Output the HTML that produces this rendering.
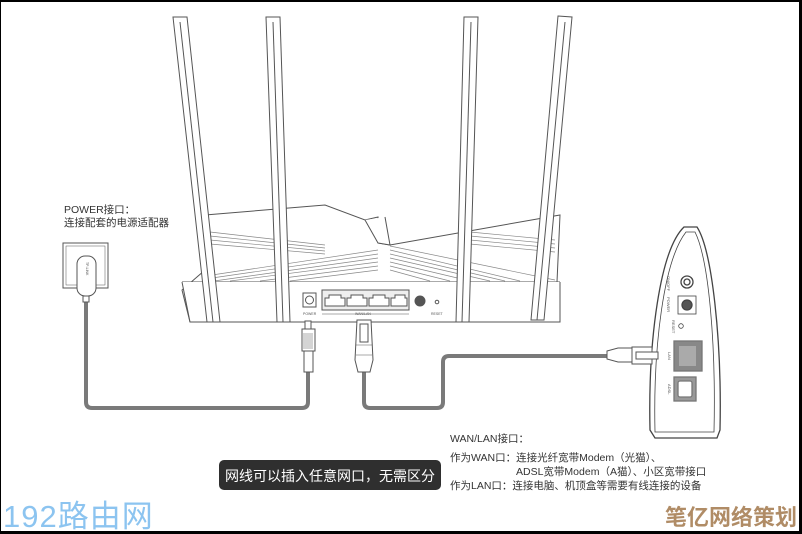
<!DOCTYPE html>
<html><head><meta charset="utf-8"><style>
html,body{margin:0;padding:0;background:#fff}
body{width:802px;height:534px;overflow:hidden;position:relative;font-family:"Liberation Sans","Noto Sans CJK SC",sans-serif}
svg{position:absolute;left:0;top:0}
</style></head><body>
<svg width="802" height="534" viewBox="0 0 802 534" xmlns="http://www.w3.org/2000/svg">
<rect x="0" y="0" width="802" height="534" fill="#fff"/>
<rect x="0" y="0" width="802" height="2" fill="#000"/>
<rect x="0" y="531" width="802" height="3" fill="#000"/>
<rect x="799" y="0" width="3" height="534" fill="#000"/>
<rect x="0" y="0" width="1" height="534" fill="#000"/>

<g fill="none" stroke="#7a7a7a" stroke-width="4" stroke-linejoin="round">
<path d="M86 300 V402 Q86 408 92 408 H302 Q308 408 308 402 V372"/>
<path d="M364 372 V402 Q364 408 370 408 H437 Q443 408 443 402 V362 Q443 356 449 356 H610"/>
</g>

<g fill="#fff" stroke="#555" stroke-width="1">
<path d="M205 215 L325 205 L365 220 L378 217 L378 243 L390 245 L560 215 L557 282 L560 322 L190 322 L182 290 L205 270 Z"/>
<path d="M182 282 L560 282" />
<path d="M182 282 L190 322 H560 L560 282"/>
<g stroke="#888" stroke-width="0.7">
<path d="M210 232 L325 245"/><path d="M210 236 L325 248"/><path d="M210 240 L325 251"/><path d="M210 244 L325 254"/>
<path d="M212 275 L378 250"/><path d="M212 278 L378 254"/><path d="M214 281 L378 258"/><path d="M230 281 L378 262"/><path d="M260 281 L378 266"/><path d="M290 281 L378 270"/>
<path d="M390 250 L520 281"/><path d="M390 254 L505 281"/><path d="M390 258 L490 281"/><path d="M390 262 L470 281"/><path d="M390 266 L450 281"/><path d="M390 270 L430 281"/><path d="M390 246 L555 280"/>
<path d="M470 232 L555 240"/><path d="M470 236 L555 244"/><path d="M470 240 L555 248"/><path d="M470 244 L555 252"/>
</g>
<path d="M365 220 L378 243 L390 245 L385 217"/>
</g>
<g stroke="#555" fill="#fff" stroke-width="1">
<rect x="303" y="293" width="13" height="14"/>
<circle cx="309.5" cy="300" r="4"/>
<rect x="322" y="290" width="87" height="20" fill="#eee"/>
<path d="M325 306 V298 h4 v-3 h12 v3 h4 v8 Z M347 306 V298 h4 v-3 h12 v3 h4 v8 Z M369 306 V298 h4 v-3 h12 v3 h4 v8 Z M391 306 V298 h4 v-3 h10 v3 h2 v8 Z" fill="#fff"/>
<circle cx="420" cy="301" r="5" fill="#555"/>
<circle cx="437" cy="302" r="1.8"/>
<path d="M322 314 H409" stroke-width="0.6"/>
</g>
<g font-size="3.5" fill="#555" font-family="Liberation Sans,sans-serif">
<text x="303" y="315">POWER</text><text x="355" y="315">WAN/LAN</text><text x="431" y="315">RESET</text>
</g>
<g fill="#fff" stroke="#555" stroke-width="1">
<path d="M173 17 L187 17 L220 322 L207 322 Z"/><path d="M180 22 L213 322"/>
<path d="M266 17 L280 17 L290 322 L277 322 Z"/><path d="M273 22 L283 322"/>
<path d="M464 17 L478 17 L469 322 L456 322 Z"/><path d="M471 22 L462 322"/>
<path d="M558 16 L572 17 L544 320 L531 320 Z"/><path d="M565 22 L537 320"/>
</g>
<g fill="#fff" stroke="#555" stroke-width="1">
<rect x="305" y="321" width="6" height="8"/>
<rect x="302" y="329" width="13" height="22"/>
<path d="M304 333 V349 M306 333 V349 M308 333 V349 M310 333 V349 M312 333 V349" stroke-width="0.5"/>
<rect x="304" y="351" width="9" height="21"/>
<path d="M357 320 H371 L373 360 L370 372 H358 L355 360 Z"/>
<rect x="360" y="324" width="8" height="18"/>
<path d="M356 345 H372 M356 355 H372" stroke-width="0.6"/>
</g>
<g fill="#fff" stroke="#555" stroke-width="1">
<rect x="63" y="243" width="45" height="45"/>
<rect x="66" y="246" width="39" height="39" stroke-width="0.5"/>
<rect x="77" y="256" width="19" height="40" rx="8"/>
<text x="86" y="262" font-size="3.5" fill="#555" stroke="none" transform="rotate(90 86 262)">TP-LINK</text>
<rect x="83" y="296" width="6" height="6"/>
</g>
<g fill="#fff" stroke="#444" stroke-width="1.3">
<path d="M650 430 C648 340 660 250 684 227 L697 227 C712 250 722 340 720 430 L717 438 L655 438 Z"/>
<path d="M655 432 C653 345 664 260 686 232 L695 232 C709 260 716 345 714 432 Z" stroke-width="0.8"/>
<circle cx="687" cy="282" r="6"/><circle cx="687" cy="282" r="3"/>
<rect x="678" y="296" width="18" height="18" stroke-width="0.8"/><circle cx="687" cy="305" r="5" fill="#555"/>
<circle cx="681" cy="326" r="2.3" stroke-width="0.8"/>
<rect x="674" y="341" width="28" height="30" fill="#888" stroke="#777"/>
<path d="M679 346 H696 V366 H679 Z" fill="#aaa" stroke="none"/>
<rect x="674" y="377" width="22" height="24" fill="#999" stroke="#777"/>
<rect x="678" y="381" width="14" height="16" rx="2" fill="#fff" stroke="#777"/>
</g>
<g font-size="4" fill="#555" font-family="Liberation Sans,sans-serif">
<text transform="translate(667 276) rotate(90)">ON/OFF</text>
<text transform="translate(667 297) rotate(90)">POWER</text>
<text transform="translate(672 320) rotate(90)">RESET</text>
<text transform="translate(668 352) rotate(90)">LAN</text>
<text transform="translate(668 384) rotate(90)">ADSL</text>
</g>
<g fill="#fff" stroke="#555" stroke-width="1">
<path d="M607 351 L618 348 H632 V362 H618 L607 359 Z"/>
<rect x="632" y="347" width="20" height="17"/>
<rect x="636" y="352" width="22" height="7"/>
</g>
<g font-size="10.5" fill="#333">
<text x="64" y="213">POWER接口：</text>
<text x="64" y="226">连接配套的电源适配器</text>
<text x="450" y="442">WAN/LAN接口：</text>
<text x="450" y="461">作为WAN口：连接光纤宽带Modem（光猫）、</text>
<text x="516" y="475">ADSL宽带Modem（A猫）、小区宽带接口</text>
<text x="450" y="489">作为LAN口：连接电脑、机顶盒等需要有线连接的设备</text>
</g>
<rect x="219" y="460" width="222" height="30" rx="5" fill="#2f2f2f"/>
<text x="330" y="481" font-size="14" fill="#fff" text-anchor="middle">网线可以插入任意网口，无需区分</text>
<text x="3" y="527" font-size="31" fill="#8cc4f0" letter-spacing="1">192路由网</text>
<text x="797" y="525" font-size="22" fill="#b08c66" font-weight="bold" text-anchor="end">笔亿网络策划</text>
</svg>
</body></html>
